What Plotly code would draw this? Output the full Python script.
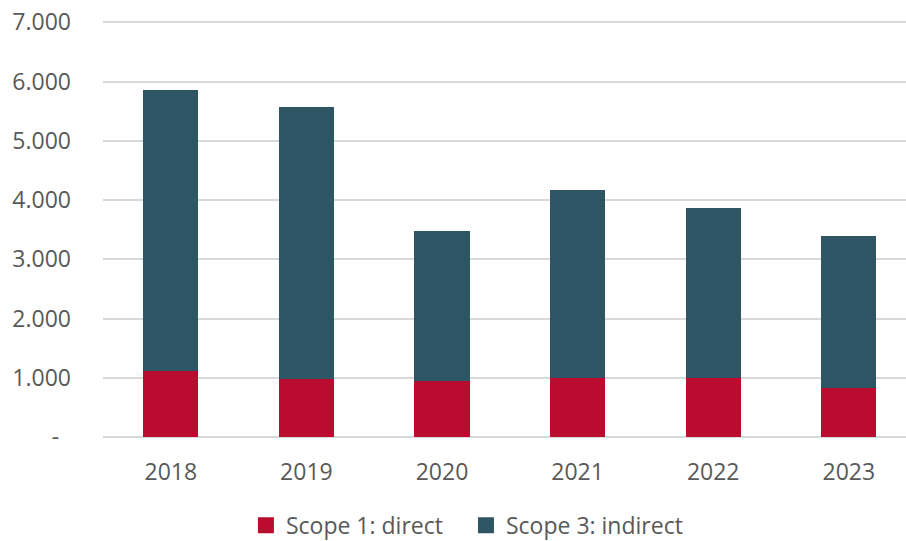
import plotly.graph_objects as go

years = ["2018", "2019", "2020", "2021", "2022", "2023"]
scope1_direct = [1121, 979, 940, 1002, 991, 827]
scope3_indirect = [4730, 4591, 2532, 3167, 2881, 2572]
ytick_vals = [0, 1000, 2000, 3000, 4000, 5000, 6000, 7000]
ytick_text = ["-\u00a0\u00a0", "1.000", "2.000", "3.000", "4.000", "5.000", "6.000", "7.000"]

RED = "#BA0C2F"
TEAL = "#2E5564"
GRAY_TXT = "#595959"
GRID = "#D9D9D9"
FONT = "Open Sans"

fig = go.Figure()
fig.add_trace(go.Bar(x=years, y=scope1_direct, name="Scope 1: direct",
                     marker=dict(color=RED, line=dict(width=0)), showlegend=False))
fig.add_trace(go.Bar(x=years, y=scope3_indirect, name="Scope 3: indirect",
                     marker=dict(color=TEAL, line=dict(width=0)), showlegend=False))
# legend entries
fig.add_trace(go.Scatter(x=[None], y=[None], mode="markers", name="Scope 1: direct",
                         marker=dict(symbol="square", size=16, color=RED), legend="legend"))
fig.add_trace(go.Scatter(x=[None], y=[None], mode="markers", name="Scope 3: indirect",
                         marker=dict(symbol="square", size=16, color=TEAL), legend="legend2"))

leg_common = dict(orientation="h", xref="paper", xanchor="left",
                  y=-0.2115, yanchor="middle", font=dict(size=23, color=GRAY_TXT),
                  itemclick=False, bgcolor="rgba(0,0,0,0)")

fig.update_layout(
    width=906, height=541,
    margin=dict(l=103, r=0, t=20, b=104, autoexpand=False),
    barmode="stack",
    bargap=0.594,
    plot_bgcolor="white",
    paper_bgcolor="white",
    font=dict(family=FONT, size=23, color=GRAY_TXT),
    legend=dict(x=0.178, **leg_common),
    legend2=dict(x=0.452, **leg_common),
    showlegend=True,
)
fig.update_xaxes(
    type="category", range=[-0.5, 5.422], showgrid=False, showline=False,
    zeroline=False, ticks="", ticklabelstandoff=19, automargin=False,
    tickfont=dict(family=FONT, size=23, color=GRAY_TXT),
)
fig.update_yaxes(
    range=[0, 7040], tickvals=ytick_vals, ticktext=ytick_text,
    showgrid=True, gridcolor=GRID, gridwidth=2,
    zeroline=True, zerolinecolor=GRID, zerolinewidth=2,
    showline=False, ticks="", ticklabelstandoff=31, automargin=False,
    ticklabeloverflow="allow",
    tickfont=dict(family=FONT, size=23, color=GRAY_TXT),
)

fig.write_html("out.html", config={"displayModeBar": False},
               post_script="document.body.style.margin='0';document.body.style.overflow='hidden';")
